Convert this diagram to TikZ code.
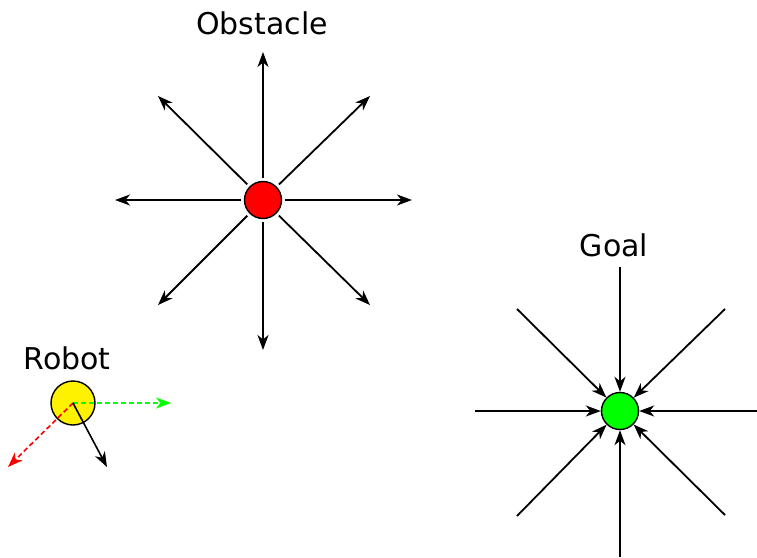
\documentclass[tikz,border=0pt]{standalone}
\usepackage{fontspec}
\setmainfont{DejaVu Sans}
\usetikzlibrary{arrows.meta}
\begin{document}
\begin{tikzpicture}[x=1pt,y=-1pt,
  arr/.style={line width=1.8pt,-{Stealth[length=15pt,width=11pt,inset=4.5pt]}},
  ball/.style={circle,draw,line width=1.4pt,inner sep=0pt},
  lbl/.style={font=\fontsize{30}{36}\selectfont,inner sep=0pt}]
\useasboundingbox (0,0) rectangle (757,557);
\node[ball,fill=red,minimum size=37pt] (obs) at (263,200) {};
\node[ball,fill=green,minimum size=37pt] (goal) at (620,411) {};
\node[ball,fill=yellow,minimum size=44pt] (rob) at (73,403) {};
\node[lbl] (tobs) at (262,23) {Obstacle};
\node[lbl] (tgoal) at (614,245) {Goal};
\node[lbl] (trob) at (67,358) {Robot};
% obstacle
\foreach \n/\x/\y in {a/263/52,b/263/350,c/115/200,d/412/200,e/158/96,f/370/96,g/158/305,h/370/305}{
  \coordinate (o\n) at (\x,\y);
  \draw[arr,shorten <=3pt] (obs) -- (o\n);
}
% goal
\foreach \n/\x/\y in {a/620/267,b/620/557,c/475/411,d/757/411,e/517/309,f/725/309,g/517/516,h/725/515}{
  \coordinate (g\n) at (\x,\y);
  \draw[arr] (g\n) -- (goal);
}
% robot
\coordinate (rg) at (171,403);
\coordinate (rr) at (8,467);
\coordinate (rk) at (107,467);
\draw[arr,green,dash pattern=on 5pt off 3pt,line width=1.6pt] (rob.center) -- (rg);
\draw[arr,red,dash pattern=on 5pt off 3pt,line width=1.6pt] (rob.center) -- (rr);
\draw[arr,line width=1.6pt] (rob.center) -- (rk);
\end{tikzpicture}
\end{document}
